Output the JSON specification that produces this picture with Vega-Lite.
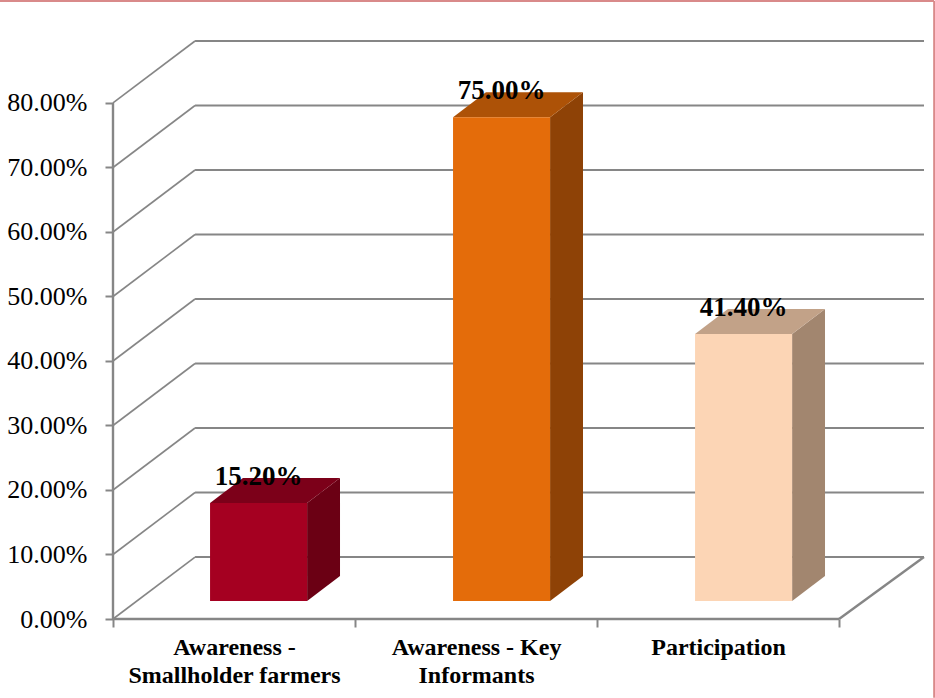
{
"$schema":"https://vega.github.io/schema/vega-lite/v6.json",
"autosize":{"type":"none"},
"padding":{"left":113,"top":41,"right":11,"bottom":79},
"width":811,"height":578,
"background":"white",
"config":{"view":{"stroke":null}},
"datasets":{
"levels":[{"level":0,"back":0.0961,"a":0,"b":0.339,"c":3.351},{"level":0.1,"back":0.1961,"a":0,"b":0.339,"c":3.351},{"level":0.2,"back":0.2961,"a":0,"b":0.339,"c":3.351},{"level":0.3,"back":0.3961,"a":0,"b":0.339,"c":3.351},{"level":0.4,"back":0.4961,"a":0,"b":0.339,"c":3.351},{"level":0.5,"back":0.5961,"a":0,"b":0.339,"c":3.351},{"level":0.6,"back":0.6961,"a":0,"b":0.339,"c":3.351},{"level":0.7,"back":0.7961,"a":0,"b":0.339,"c":3.351},{"level":0.8,"back":0.8961,"a":0,"b":0.339,"c":3.351}],
"walls":[{"x":0,"x2":3,"y":0,"y2":0},{"x":0,"x2":0,"y":0,"y2":0.8},{"x":3,"x2":3.351,"y":0,"y2":0.0961}],
"edge":[{"x":-0.467,"x2":3.393,"y":0.958,"y2":0.958},{"x":3.393,"x2":3.393,"y":0.958,"y2":-0.122}],
"bars":[
{"category":"Awareness - Smallholder farmers","value":0.152,"zero":0,"start":0.401,"end":0.802,"mid":0.6015,"key":"a front"},
{"category":"Awareness - Key Informants","value":0.75,"zero":0,"start":1.405,"end":1.806,"mid":1.6055,"key":"b front"},
{"category":"Participation","value":0.414,"zero":0,"start":2.405,"end":2.806,"mid":2.6055,"key":"c front"}],
"faces":[
{"key":"a side","x":0.802,"y":0.1798,"y2":0.0279},{"key":"a side","x":0.938,"y":0.2186,"y2":0.0667},
{"key":"a top","x":0.401,"y":0.1798,"y2":0.1798},{"key":"a top","x":0.537,"y":0.2186,"y2":0.1798},{"key":"a top","x":0.802,"y":0.2186,"y2":0.1798},{"key":"a top","x":0.938,"y":0.2186,"y2":0.2186},
{"key":"b side","x":1.806,"y":0.7779,"y2":0.0279},{"key":"b side","x":1.942,"y":0.8167,"y2":0.0667},
{"key":"b top","x":1.405,"y":0.7779,"y2":0.7779},{"key":"b top","x":1.541,"y":0.8167,"y2":0.7779},{"key":"b top","x":1.806,"y":0.8167,"y2":0.7779},{"key":"b top","x":1.942,"y":0.8167,"y2":0.8167},
{"key":"c side","x":2.806,"y":0.4419,"y2":0.0279},{"key":"c side","x":2.942,"y":0.4807,"y2":0.0667},
{"key":"c top","x":2.405,"y":0.4419,"y2":0.4419},{"key":"c top","x":2.541,"y":0.4807,"y2":0.4419},{"key":"c top","x":2.806,"y":0.4807,"y2":0.4419},{"key":"c top","x":2.942,"y":0.4807,"y2":0.4807}]
},
"layer":[
{"data":{"name":"levels"},
 "mark":{"type":"rule","stroke":"#868686","strokeWidth":2},
 "encoding":{
  "x":{"field":"b","type":"quantitative","title":null,
   "scale":{"domain":[0,3.351],"nice":false,"zero":false},
   "axis":{"values":[0,0.5,1,1.5,2,2.5,3],"domain":false,"grid":false,"tickSize":8,"tickWidth":2,"tickColor":"#868686",
    "tickOpacity":{"expr":"datum.value % 1 === 0 ? 1 : 0"},
    "labelExpr":"datum.value === 0.5 ? ['Awareness -','Smallholder farmers'] : datum.value === 1.5 ? ['Awareness - Key','Informants'] : datum.value === 2.5 ? 'Participation' : ''",
    "labelFont":"Liberation Serif","labelFontWeight":"bold","labelFontSize":24,"labelColor":"#000000","labelLineHeight":28,"labelPadding":8,"labelLimit":400,"labelOverlap":false,"labelBound":false,"labelFlush":false,"labelAngle":0}},
  "x2":{"field":"c"},
  "y":{"field":"back","type":"quantitative","title":null,
   "scale":{"domain":[0,0.8961],"nice":false,"zero":false},
   "axis":{"values":[0,0.1,0.2,0.3,0.4,0.5,0.6,0.7,0.8],"format":".2%","domain":false,"grid":false,"tickSize":8,"tickWidth":2,"tickColor":"#868686",
    "labelFont":"Liberation Serif","labelFontSize":26,"labelColor":"#000000","labelPadding":18,"labelOverlap":false,"labelBound":false,"labelFlush":false}}
 }},
{"data":{"name":"levels"},
 "mark":{"type":"rule","stroke":"#868686","strokeWidth":1.6},
 "encoding":{"x":{"field":"a","type":"quantitative"},"x2":{"field":"b"},"y":{"field":"level","type":"quantitative"},"y2":{"field":"back"}}},
{"data":{"name":"walls"},
 "mark":{"type":"rule","stroke":"#868686","strokeWidth":2.4},
 "encoding":{"x":{"field":"x","type":"quantitative"},"x2":{"field":"x2"},"y":{"field":"y","type":"quantitative"},"y2":{"field":"y2"}}},
{"data":{"name":"edge"},
 "mark":{"type":"rule","stroke":"#D98A8A","strokeWidth":2,"clip":false},
 "encoding":{"x":{"field":"x","type":"quantitative"},"x2":{"field":"x2"},"y":{"field":"y","type":"quantitative"},"y2":{"field":"y2"}}},
{"data":{"name":"faces"},
 "mark":{"type":"area","interpolate":"linear","orient":"vertical"},
 "encoding":{
  "x":{"field":"x","type":"quantitative"},
  "y":{"field":"y","type":"quantitative"},"y2":{"field":"y2"},
  "color":{"field":"key","type":"nominal","legend":null,
   "scale":{"domain":["a front","a side","a top","b front","b side","b top","c front","c side","c top"],
    "range":["#A50021","#6B0014","#7C0019","#E46C0A","#8E4206","#AD5207","#FCD5B5","#A2866F","#C2A288"]}}}},
{"data":{"name":"bars"},
 "mark":{"type":"rect","yOffset":-18,"y2Offset":-18},
 "encoding":{
  "x":{"field":"start","type":"quantitative"},"x2":{"field":"end"},
  "y":{"field":"value","type":"quantitative"},"y2":{"field":"zero"},
  "color":{"field":"key","type":"nominal","legend":null}}},
{"data":{"name":"bars"},
 "mark":{"type":"text","font":"Liberation Serif","fontWeight":"bold","fontSize":27,"fill":"#000000","baseline":"middle","align":"center","yOffset":-44},
 "encoding":{
  "x":{"field":"mid","type":"quantitative"},
  "y":{"field":"value","type":"quantitative"},
  "text":{"field":"value","type":"quantitative","format":".2%"}}}
]
}
